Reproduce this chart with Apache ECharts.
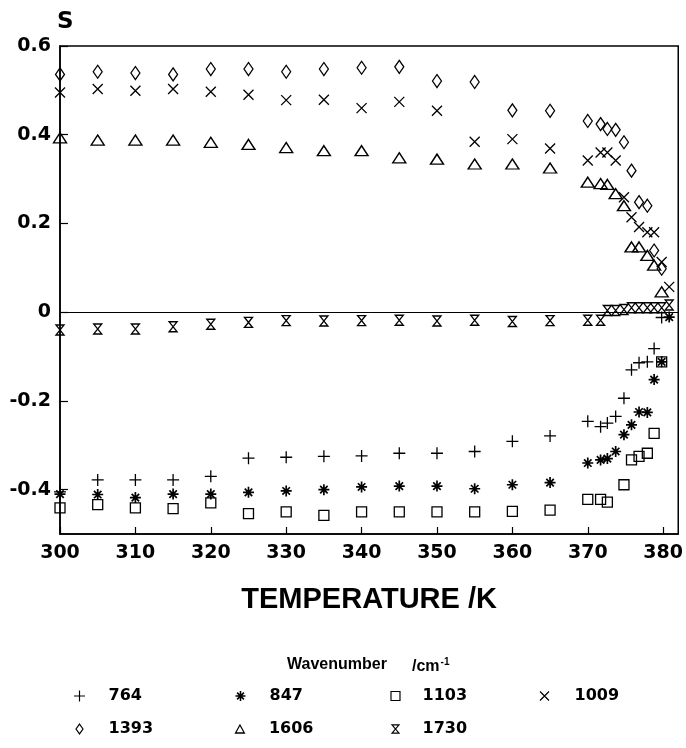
<!DOCTYPE html>
<html>
<head>
<meta charset="utf-8">
<script src="https://cdn.jsdelivr.net/npm/echarts@6/dist/echarts.min.js"></script>
<style>
  html, body { margin: 0; padding: 0; background: #fff; }
  #chart { width: 686px; height: 748px; }
</style>
</head>
<body>
<div id="chart"></div>
<script>
// ---- data (temperature in K, order parameter S) ----
const tempsEarly = [300, 305, 310, 315, 320, 325, 330, 335, 340, 345, 350, 355, 360, 365];
const tempsLate = [370, 371.7, 372.6, 373.7, 374.8, 375.8, 376.8, 377.9, 378.8, 379.8, 380.8];

const xTickLabels = [300, 310, 320, 330, 340, 350, 360, 370, 380];
const yTickLabels = [-0.4, -0.2, 0, 0.2, 0.4, 0.6];

const wavenumbers = ['764', '847', '1103', '1009', '1393', '1606', '1730'];

const s764Early = [-0.405, -0.378, -0.378, -0.378, -0.370, -0.329, -0.327, -0.325, -0.324, -0.318, -0.318, -0.314, -0.291, -0.279];
const s764Late = [-0.246, -0.258, -0.250, -0.235, -0.194, -0.130, -0.114, -0.112, -0.082, -0.012, null];

const s847Early = [-0.410, -0.411, -0.418, -0.410, -0.410, -0.406, -0.403, -0.400, -0.394, -0.392, -0.392, -0.398, -0.389, -0.384];
const s847Late = [-0.340, -0.333, -0.330, -0.314, -0.276, -0.254, -0.225, -0.226, -0.152, -0.112, -0.011];

const s1103Early = [-0.441, -0.434, -0.441, -0.443, -0.430, -0.454, -0.450, -0.458, -0.450, -0.450, -0.450, -0.450, -0.449, -0.446];
const s1103Late = [-0.422, -0.422, -0.428, null, -0.389, -0.333, -0.325, -0.318, -0.273, -0.112, null];

const s1009Early = [0.495, 0.503, 0.499, 0.503, 0.497, 0.490, 0.478, 0.479, 0.460, 0.474, 0.454, 0.384, 0.390, 0.369];
const s1009Late = [0.342, 0.360, 0.360, 0.342, 0.259, 0.214, 0.192, 0.180, 0.180, 0.113, 0.057];

const s1393Early = [0.536, 0.542, 0.539, 0.536, 0.548, 0.548, 0.542, 0.548, 0.551, 0.553, 0.521, 0.519, 0.455, 0.454];
const s1393Late = [0.431, 0.424, 0.413, 0.411, 0.383, 0.319, 0.248, 0.240, 0.139, 0.098, null];

const s1606Early = [0.393, 0.388, 0.388, 0.388, 0.383, 0.378, 0.371, 0.364, 0.364, 0.348, 0.345, 0.334, 0.334, 0.325];
const s1606Late = [0.293, 0.290, 0.288, 0.267, 0.240, 0.147, 0.147, 0.128, 0.106, 0.046, null];

const s1730Early = [-0.040, -0.038, -0.038, -0.033, -0.027, -0.023, -0.019, -0.020, -0.019, -0.018, -0.020, -0.018, -0.021, -0.019];
const s1730Late = [-0.018, -0.018, 0.004, 0.004, 0.006, 0.010, 0.010, 0.010, 0.010, 0.010, 0.016];

// ---- build ----
function pairs(early, late) {
  const out = [];
  tempsEarly.forEach((t, i) => { if (early[i] != null) out.push([t, early[i]]); });
  tempsLate.forEach((t, i) => { if (late[i] != null) out.push([t, late[i]]); });
  return out;
}

const symbols = {
  '764': { path: 'path://M0,5L10,5M5,0L5,10', size: [12, 12], lw: 1.3, leg: [11, 11] },
  '847': { path: 'path://M5,0L5,10M0,5L10,5M1.6,1.6L8.4,8.4M1.6,8.4L8.4,1.6', size: [11, 11], lw: 1.7, leg: [10, 11] },
  '1103': { path: 'path://M0,0L10,0L10,10L0,10Z', size: [10, 10], lw: 1.3, leg: [9, 9] },
  '1009': { path: 'path://M0,0L10,10M0,10L10,0', size: [10, 10], lw: 1.3, leg: [9, 9] },
  '1393': { path: 'path://M5,0L10,7L5,14L0,7Z', size: [9, 13], lw: 1.3, leg: [7, 10] },
  '1606': { path: 'path://M5,0L10,9L0,9Z', size: [13, 10], lw: 1.4, leg: [10, 8] },
  '1730': { path: 'path://M0,0L10,0L0,12L10,12Z', size: [8, 10], lw: 1.3, leg: [7, 9] }
};

const seriesData = {
  '764': pairs(s764Early, s764Late),
  '847': pairs(s847Early, s847Late),
  '1103': pairs(s1103Early, s1103Late),
  '1009': pairs(s1009Early, s1009Late),
  '1393': pairs(s1393Early, s1393Late),
  '1606': pairs(s1606Early, s1606Late),
  '1730': pairs(s1730Early, s1730Late)
};

const series = wavenumbers.map((w, i) => {
  const s = {
    name: w,
    type: 'scatter',
    symbol: symbols[w].path,
    symbolSize: symbols[w].size,
    data: seriesData[w],
    itemStyle: { color: 'none', borderColor: '#000', borderWidth: symbols[w].lw, opacity: 1 },
    emphasis: { disabled: true },
    animation: false
  };
  if (i === 0) {
    s.markLine = {
      silent: true,
      symbol: 'none',
      label: { show: false },
      lineStyle: { color: '#000', width: 1, type: 'solid' },
      data: [{ yAxis: 0 }],
      animation: false
    };
  }
  return s;
});

// legend layout: 4 columns, 2 rows
const legCols = [77, 238, 393, 542];
const legTextX = [106, 267, 420, 572];
const legRows = [696, 729];
const legend = wavenumbers.map((w, i) => {
  const col = i % 4, row = Math.floor(i / 4);
  const lw = symbols[w].leg[0], lh = symbols[w].leg[1];
  const left = legCols[col] - lw / 2;
  const pad = legTextX[col] - (left + lw + 5);
  return {
    data: [w],
    left: left,
    top: legRows[row] - 10,
    padding: 0,
    itemWidth: lw,
    itemHeight: lh,
    selectedMode: false,
    icon: symbols[w].path,
    itemStyle: { color: 'none', borderColor: '#000', borderWidth: symbols[w].lw * 0.9 },
    textStyle: {
      fontFamily: 'DejaVu Sans',
      fontWeight: 'bold',
      fontSize: 16,
      color: '#000',
      padding: [0, 0, 0, pad],
      height: 20,
      lineHeight: 20
    }
  };
});

const chart = echarts.init(document.getElementById('chart'), null, { renderer: 'canvas' });
chart.setOption({
  backgroundColor: '#fff',
  animation: false,
  grid: {
    left: 60, right: 6, top: 46, bottom: 214,
    show: true, borderColor: '#000', borderWidth: 1.5, backgroundColor: 'transparent'
  },
  xAxis: {
    type: 'value',
    min: 300, max: 382,
    name: 'TEMPERATURE /K',
    nameLocation: 'middle',
    nameGap: 66,
    nameTextStyle: {
      fontFamily: 'Liberation Sans', fontWeight: 'bold', fontSize: 29, color: '#000',
      verticalAlign: 'middle'
    },
    axisLine: { show: true, onZero: false, lineStyle: { color: '#000', width: 1.5 } },
    axisTick: { show: true, inside: true, length: 7, lineStyle: { color: '#000', width: 1.2 }, customValues: xTickLabels },
    axisLabel: {
      customValues: xTickLabels,
      fontFamily: 'DejaVu Sans', fontWeight: 'bold', fontSize: 19, color: '#000', margin: 10
    },
    splitLine: { show: false }
  },
  yAxis: {
    type: 'value',
    min: -0.5, max: 0.6,
    name: 'S',
    nameLocation: 'end',
    nameGap: 12,
    nameTextStyle: {
      fontFamily: 'DejaVu Sans', fontWeight: 'bold', fontSize: 23, color: '#000',
      align: 'left', verticalAlign: 'bottom', padding: [0, 0, 0, -3]
    },
    axisLine: { show: true, onZero: false, lineStyle: { color: '#000', width: 1.5 } },
    axisTick: { show: true, inside: true, length: 8, lineStyle: { color: '#000', width: 1.2 }, customValues: yTickLabels },
    axisLabel: {
      customValues: yTickLabels,
      formatter: v => (Math.abs(v) < 1e-9 ? '0' : v.toFixed(1)),
      fontFamily: 'DejaVu Sans', fontWeight: 'bold', fontSize: 19, color: '#000', margin: 9
    },
    splitLine: { show: false }
  },
  legend: legend,
  graphic: [{
    type: 'text',
    left: 287,
    top: 657,
    style: {
      text: 'Wavenumber',
      fill: '#000',
      font: 'bold 16px "Liberation Sans"'
    }
  }, {
    type: 'text',
    left: 412,
    top: 657,
    style: {
      text: '/cm{sup|-1}',
      fill: '#000',
      font: 'bold 16px "Liberation Sans"',
      rich: {
        sup: { fontSize: 10, fontWeight: 'bold', fontFamily: 'Liberation Sans', verticalAlign: 'top', padding: [0, 0, 9, 1] }
      }
    }
  }],
  series: series
});
</script>
</body>
</html>
